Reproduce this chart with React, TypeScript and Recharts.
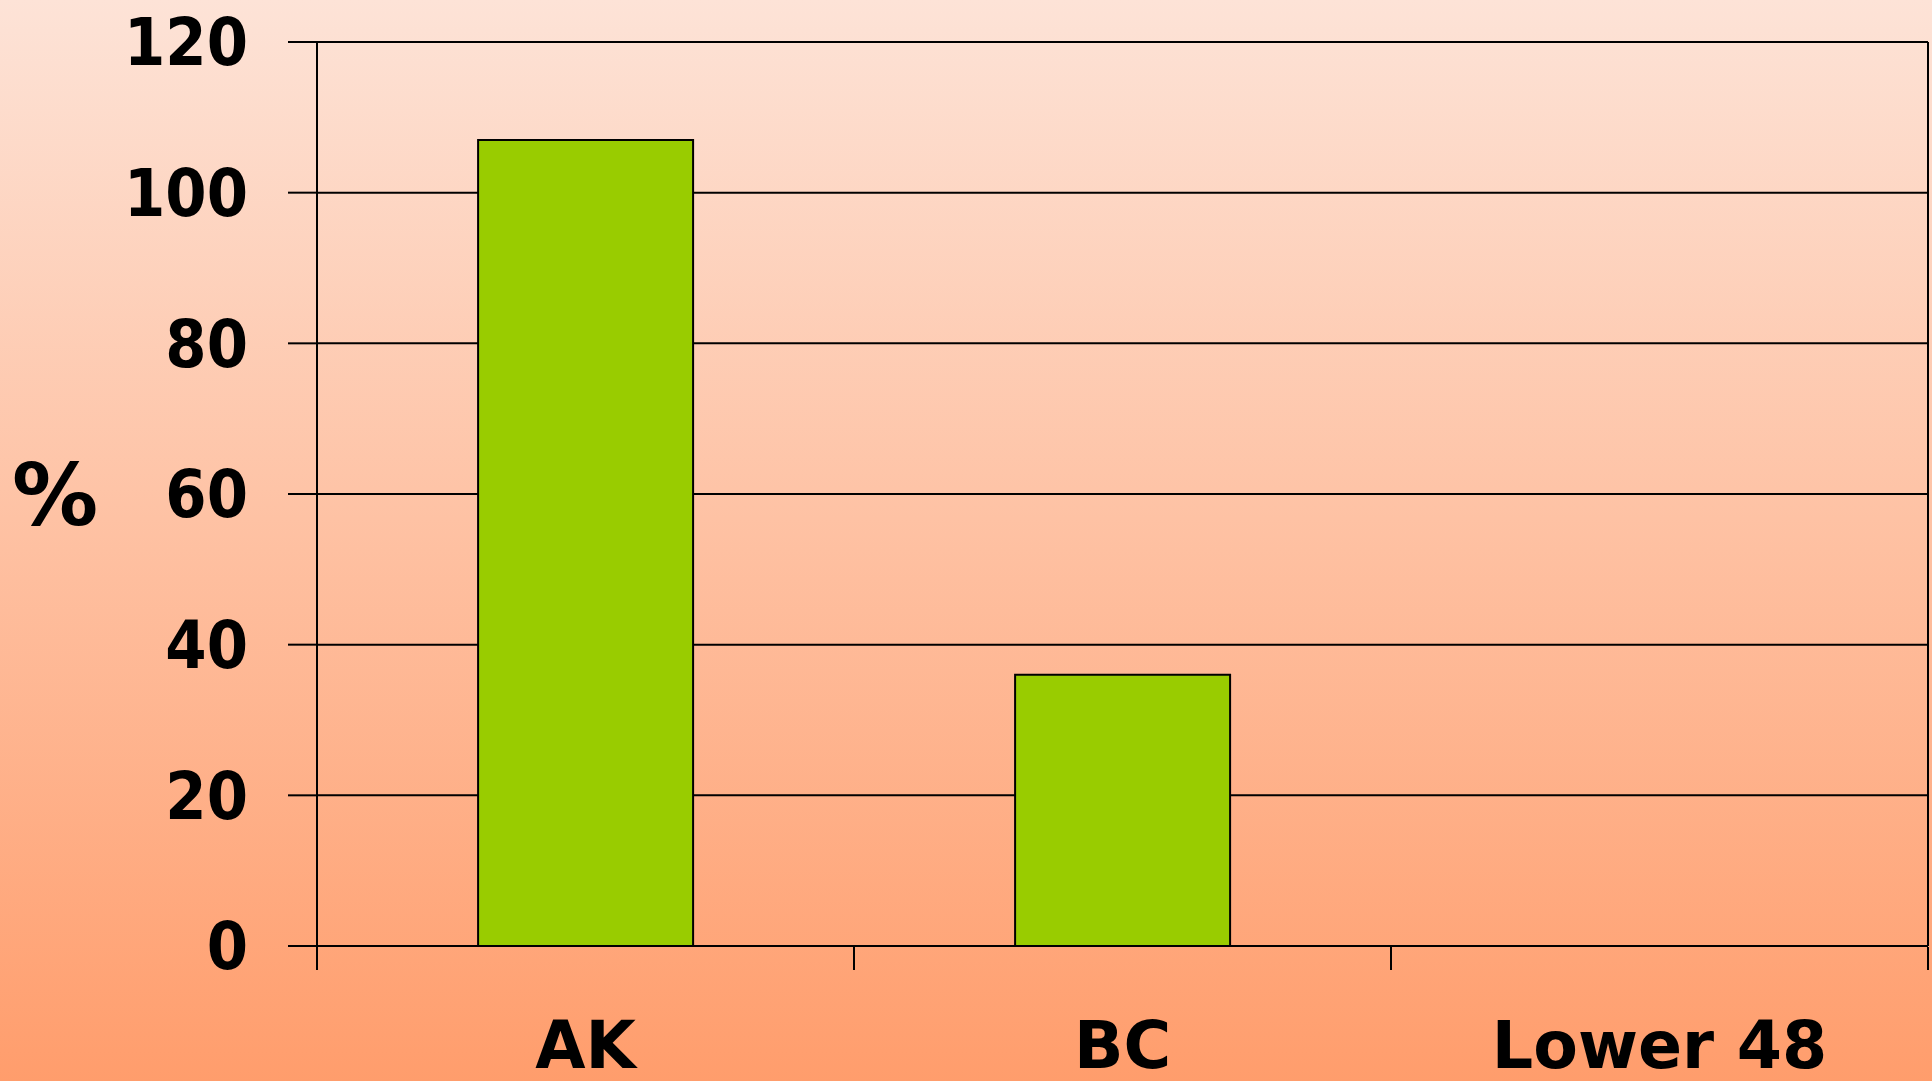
import React from "react";
import { BarChart, Bar, XAxis, YAxis, CartesianGrid } from "recharts";

// Regions and their percentages
const regions = ["AK", "BC", "Lower 48"];
const percents = [107, 36, 0];
const yTicks = [0, 20, 40, 60, 80, 100, 120];
// Boundaries between region bands (used for the bottom axis tick marks)
const bandEdges = [0, 1, 2, 3];

const data = regions.map((name, i) => ({ name, value: percents[i] }));

const W = 1932;
const H = 1081;

const tickFont = {
  fontFamily: "'DejaVu Sans Condensed', 'DejaVu Sans', sans-serif",
  fontStretch: "condensed" as const,
  fontWeight: 700,
};

export default function App() {
  return (
    <div
      style={{
        position: "absolute",
        left: 0,
        top: 0,
        width: W,
        height: H,
        background: "linear-gradient(to bottom, #FDE3D7 0%, #FEC2A4 48%, #FF9D6C 100%)",
      }}
    >
      <BarChart
        width={W}
        height={H}
        data={data}
        margin={{ top: 42, right: 3, bottom: 133, left: 0 }}
        barCategoryGap="30%"
      >
        <CartesianGrid
          xAxisId="cat"
          yAxisId="left"
          horizontal
          vertical={false}
          stroke="#000"
          strokeWidth={2}
        />
        <XAxis
          xAxisId="cat"
          dataKey="name"
          height={1}
          tickLine={false}
          axisLine={{ stroke: "#000", strokeWidth: 2 }}
          tickMargin={70}
          tick={{ fill: "#000", fontSize: 65, fontFamily: "'DejaVu Sans', sans-serif", fontWeight: 700 }}
        />
        <XAxis
          xAxisId="edges"
          type="number"
          dataKey="edge"
          domain={[0, 3]}
          ticks={bandEdges}
          interval={0}
          allowDataOverflow
          height={1}
          axisLine={false}
          tickFormatter={() => ""}
          tickSize={23}
          tickLine={{ stroke: "#000", strokeWidth: 2 }}
        />
        <YAxis
          yAxisId="left"
          width={317}
          domain={[0, 120]}
          ticks={yTicks}
          interval={0}
          tickSize={29}
          tickMargin={40}
          axisLine={{ stroke: "#000", strokeWidth: 2 }}
          tickLine={{ stroke: "#000", strokeWidth: 2 }}
          tick={{ fill: "#000", fontSize: 66, ...tickFont }}
          label={{
            value: "%",
            position: "insideLeft",
            offset: 12,
            fill: "#000",
            fontSize: 86,
            fontFamily: "'DejaVu Sans', sans-serif",
            fontWeight: 700,
          }}
        />
        <YAxis
          yAxisId="right"
          orientation="right"
          width={1}
          domain={[0, 120]}
          tick={false}
          tickLine={false}
          axisLine={{ stroke: "#000", strokeWidth: 2 }}
        />
        <Bar
          xAxisId="cat"
          yAxisId="left"
          dataKey="value"
          fill="#99CC00"
          stroke="#000"
          strokeWidth={2}
          isAnimationActive={false}
        />
      </BarChart>
    </div>
  );
}
